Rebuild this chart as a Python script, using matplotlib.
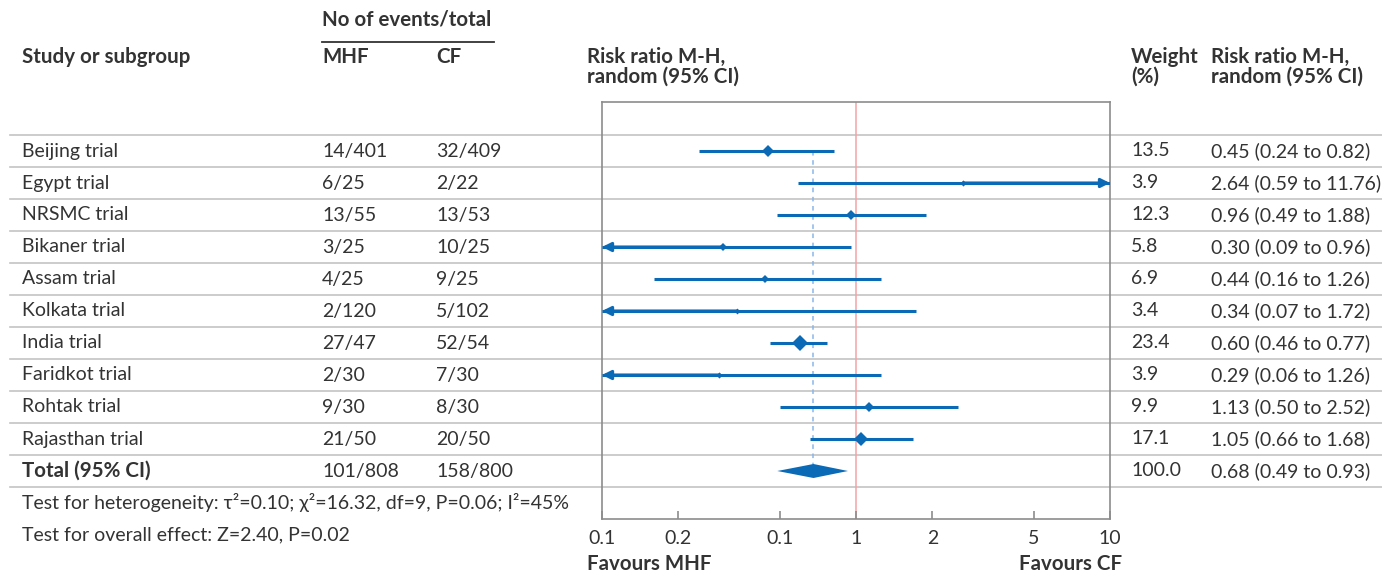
"""Forest plot: MHF vs CF, risk ratio M-H random."""
import matplotlib
matplotlib.use("Agg")
import matplotlib.pyplot as plt

studies = ["Beijing trial", "Egypt trial", "NRSMC trial", "Bikaner trial", "Assam trial",
           "Kolkata trial", "India trial", "Faridkot trial", "Rohtak trial", "Rajasthan trial"]
mhf = ["14/401", "6/25", "13/55", "3/25", "4/25", "2/120", "27/47", "2/30", "9/30", "21/50"]
cf = ["32/409", "2/22", "13/53", "10/25", "9/25", "5/102", "52/54", "7/30", "8/30", "20/50"]
weight = [13.5, 3.9, 12.3, 5.8, 6.9, 3.4, 23.4, 3.9, 9.9, 17.1]
rr = [0.45, 2.64, 0.96, 0.30, 0.44, 0.34, 0.60, 0.29, 1.13, 1.05]
rr_lo = [0.24, 0.59, 0.49, 0.09, 0.16, 0.07, 0.46, 0.06, 0.50, 0.66]
rr_hi = [0.82, 11.76, 1.88, 0.96, 1.26, 1.72, 0.77, 1.26, 2.52, 1.68]

total_mhf = "101/808"
total_cf = "158/800"
total_weight = 100.0
total_rr, total_lo, total_hi = 0.68, 0.49, 0.93

x_ticks = [0.1, 0.2, 0.5, 1, 2, 5, 10]
x_ticklabels = ["0.1", "0.2", "0.1", "1", "2", "5", "10"]  # as printed in the source

TXT = "#333333"
BLUE = "#0a6ab6"
GRID = "#c4c4c4"
FONT = ["Lato", "DejaVu Sans"]
FS = 14       # regular text
FSB = 14.8    # bold headers

plt.rcParams["font.family"] = FONT

fig = plt.figure(figsize=(13.82, 5.76), dpi=100)

# background axes in pixel units for the table
bg = fig.add_axes([0, 0, 1, 1])
bg.set_xlim(0, 1382)
bg.set_ylim(576, 0)
bg.axis("off")

row_y = [151 + 32 * i for i in range(len(studies) + 1)]
for k in range(len(row_y) + 1):
    yl = row_y[0] - 16 + 32 * k
    bg.plot([10, 1382], [yl, yl], color=GRID, lw=1.2, zorder=0)


def bold(x, y, s, **kw):
    bg.text(x, y, s, fontsize=FSB, fontweight="bold", color=TXT, va="center", **kw)


def plain(x, y, s, **kw):
    bg.text(x, y, s, fontsize=FS, color=TXT, va="center", **kw)


# headers
bold(322, 20, "No of events/total")
bg.plot([322, 494], [42, 42], color=TXT, lw=1.3)
bold(22, 57, "Study or subgroup")
bold(322, 57, "MHF")
bold(436, 57, "CF")
for xh in (587, 1211):
    bold(xh, 57, "Risk ratio M-H,")
    bold(xh, 77, "random (95% CI)")
bold(1131, 57, "Weight")
bold(1131, 77, "(%)")

# table rows
for i, name in enumerate(studies):
    y = row_y[i]
    plain(22, y, name)
    plain(322, y, mhf[i])
    plain(436, y, cf[i])
    plain(1131, y, f"{weight[i]:.1f}")
    plain(1211, y, f"{rr[i]:.2f} ({rr_lo[i]:.2f} to {rr_hi[i]:.2f})")

yt = row_y[-1]
bold(22, yt, "Total (95% CI)")
plain(322, yt, total_mhf)
plain(436, yt, total_cf)
plain(1131, yt, f"{total_weight:.1f}")
plain(1211, yt, f"{total_rr:.2f} ({total_lo:.2f} to {total_hi:.2f})")

plain(22, 503, "Test for heterogeneity: \u03c4\u00b2=0.10; \u03c7\u00b2=16.32, df=9, P=0.06; I\u00b2=45%")
plain(22, 535, "Test for overall effect: Z=2.40, P=0.02")
bold(587, 564, "Favours MHF")
bold(1122, 564, "Favours CF", ha="right")

# forest plot axes
left, right, top, bottom = 602, 1110, 102, 519
ax = fig.add_axes([left / 1382, (576 - bottom) / 576, (right - left) / 1382, (bottom - top) / 576])
ax.patch.set_alpha(0)
ax.set_xscale("log")
ax.set_xlim(0.1, 10)
ax.set_ylim(bottom, top)
ax.set_yticks([])
ax.set_xticks(x_ticks)
ax.set_xticklabels(x_ticklabels)
ax.minorticks_off()
ax.tick_params(axis="x", direction="in", colors="#8c8c8c", labelcolor=TXT,
               labelsize=FS, length=6, width=1.2, pad=8)
for sp in ax.spines.values():
    sp.set_color("#8c8c8c")
    sp.set_linewidth(1.2)

ax.axvline(1, color="#f4a3a3", lw=1.1, zorder=1)
ax.vlines(total_rr, row_y[0], row_y[-1], color="#8ab6ea", lw=1.1, linestyles=(0, (3, 3)), zorder=1)

for i in range(len(studies)):
    y = row_y[i]
    lo = max(rr_lo[i], 0.1)
    hi = min(rr_hi[i], 10)
    ax.plot([lo, hi], [y, y], color=BLUE, lw=2.2, solid_capstyle="butt", zorder=3)
    if rr_lo[i] < 0.1:
        ax.annotate("", xy=(0.1, y), xytext=(rr[i], y),
                    arrowprops=dict(arrowstyle="-|>", color=BLUE, lw=2.2,
                                    mutation_scale=13, shrinkA=0, shrinkB=0))
    if rr_hi[i] > 10:
        ax.annotate("", xy=(10, y), xytext=(rr[i], y),
                    arrowprops=dict(arrowstyle="-|>", color=BLUE, lw=2.2,
                                    mutation_scale=13, shrinkA=0, shrinkB=0))
    size_px = 4.0 + 0.55 * weight[i]
    ax.plot(rr[i], y, marker="D", markersize=size_px / 1.96, color=BLUE,
            markeredgewidth=0, zorder=4)

# pooled diamond
ax.fill([total_lo, total_rr, total_hi, total_rr],
        [yt, yt - 7, yt, yt + 7], color=BLUE, lw=0, zorder=4)

fig.savefig("out.png", dpi=100)
